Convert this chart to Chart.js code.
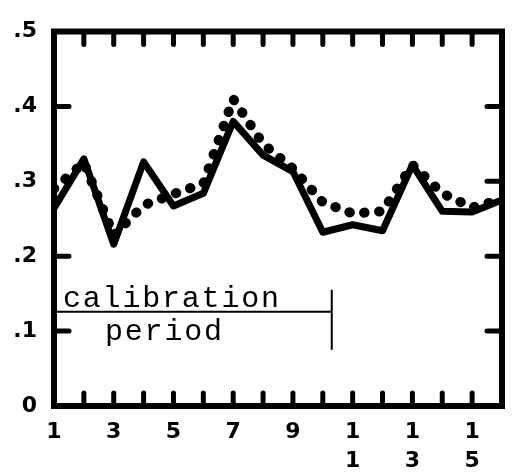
<!DOCTYPE html>
<html>
<head>
<meta charset="utf-8">
<script src="https://cdn.jsdelivr.net/npm/chart.js@4"></script>
<style>
  body { margin: 0; background: #fff; }
</style>
</head>
<body>
<canvas id="calibChart" width="528" height="476"></canvas>
<script>
// x positions (time periods) and the two series
const periods = [1, 2, 3, 4, 5, 6, 7, 8, 9, 10, 11, 12, 13, 14, 15, 16];
const solidSeries = [0.264, 0.33, 0.216, 0.326, 0.267, 0.284, 0.38, 0.335, 0.313, 0.232, 0.242, 0.234, 0.322, 0.26, 0.259, 0.275];
const dottedSeries = [0.29, 0.325, 0.228, 0.268, 0.283, 0.297, 0.41, 0.35, 0.317, 0.272, 0.257, 0.26, 0.322, 0.284, 0.265, 0.276];

// tick labels
const xLabelValues = [1, 3, 5, 7, 9, 11, 13, 15];
const yLabelValues = [0, 0.1, 0.2, 0.3, 0.4, 0.5];
const yLabelText = ['0', '.1', '.2', '.3', '.4', '.5'];

// inward tick marks
const xMarks = [2, 3, 4, 5, 6, 7, 8, 9, 10, 11, 12, 13, 14, 15];
const yMarksLeft = [0.1, 0.2, 0.4];
const yMarksRight = [0.1, 0.2, 0.3, 0.4];

// calibration period bracket
const calibEnd = 10.3;
const calibY = 0.126;

const labelFont = { family: 'DejaVu Sans', size: 22, weight: 'bold', lineHeight: 1.32 };

// frame, inward ticks and the "calibration period" note
const framePlugin = {
  id: 'frame',
  afterDatasetsDraw(chart) {
    const { ctx, chartArea: a, scales: { x, y } } = chart;
    ctx.save();
    ctx.strokeStyle = '#000';
    ctx.lineWidth = 6;
    ctx.lineJoin = 'miter';
    ctx.strokeRect(a.left, a.top, a.right - a.left, a.bottom - a.top);

    ctx.lineWidth = 5;
    ctx.lineCap = 'round';
    ctx.beginPath();
    xMarks.forEach(v => {
      const px = x.getPixelForValue(v);
      ctx.moveTo(px, a.top); ctx.lineTo(px, a.top + 13);
      ctx.moveTo(px, a.bottom); ctx.lineTo(px, a.bottom - 13);
    });
    yMarksLeft.forEach(v => {
      const py = y.getPixelForValue(v);
      ctx.moveTo(a.left, py); ctx.lineTo(a.left + 15, py);
    });
    yMarksRight.forEach(v => {
      const py = y.getPixelForValue(v);
      ctx.moveTo(a.right, py); ctx.lineTo(a.right - 15, py);
    });
    ctx.stroke();

    // bracket
    const ex = x.getPixelForValue(calibEnd);
    const ly = y.getPixelForValue(calibY);
    ctx.lineWidth = 2;
    ctx.lineCap = 'butt';
    ctx.beginPath();
    ctx.moveTo(a.left, ly); ctx.lineTo(ex, ly);
    ctx.moveTo(ex, ly - 22); ctx.lineTo(ex, ly + 38);
    ctx.stroke();

    ctx.fillStyle = '#000';
    ctx.font = '30px "Liberation Mono"';
    ctx.letterSpacing = '1.8px';
    ctx.textBaseline = 'alphabetic';
    ctx.fillText('calibration', a.left + 9, ly - 5);
    ctx.fillText('period', a.left + 51, ly + 28);
    ctx.restore();
  }
};

const ctx = document.getElementById('calibChart').getContext('2d');

new Chart(ctx, {
  type: 'line',
  data: {
    datasets: [
      {
        label: 'dotted',
        data: periods.map((p, i) => ({ x: p, y: dottedSeries[i] })),
        borderColor: '#000',
        borderWidth: 10,
        borderDash: [0.5, 14.5],
        borderCapStyle: 'round',
        pointRadius: 0,
        tension: 0,
      },
      {
        label: 'solid',
        data: periods.map((p, i) => ({ x: p, y: solidSeries[i] })),
        borderColor: '#000',
        borderWidth: 7,
        borderJoinStyle: 'round',
        pointRadius: 0,
        tension: 0,
      },
    ],
  },
  options: {
    responsive: false,
    animation: false,
    layout: { padding: { top: 25, right: 26, left: 0, bottom: 0 } },
    plugins: {
      legend: { display: false },
      tooltip: { enabled: false },
    },
    scales: {
      x: {
        type: 'linear',
        min: 1,
        max: 16,
        grid: { display: false, drawTicks: false },
        border: { display: false },
        afterFit: s => { s.height = 70; },
        afterBuildTicks: s => { s.ticks = xLabelValues.map(v => ({ value: v })); },
        ticks: {
          color: '#000',
          font: labelFont,
          padding: 12,
          maxRotation: 0,
          autoSkip: false,
          callback: v => String(v).split(''),
        },
      },
      y: {
        min: 0,
        max: 0.5,
        grid: { display: false, drawTicks: false },
        border: { display: false },
        afterFit: s => { s.width = 54; },
        afterBuildTicks: s => { s.ticks = yLabelValues.map(v => ({ value: v })); },
        ticks: {
          color: '#000',
          font: labelFont,
          padding: 17,
          callback: (v, i) => yLabelText[i],
        },
      },
    },
  },
  plugins: [framePlugin],
});
</script>
</body>
</html>
